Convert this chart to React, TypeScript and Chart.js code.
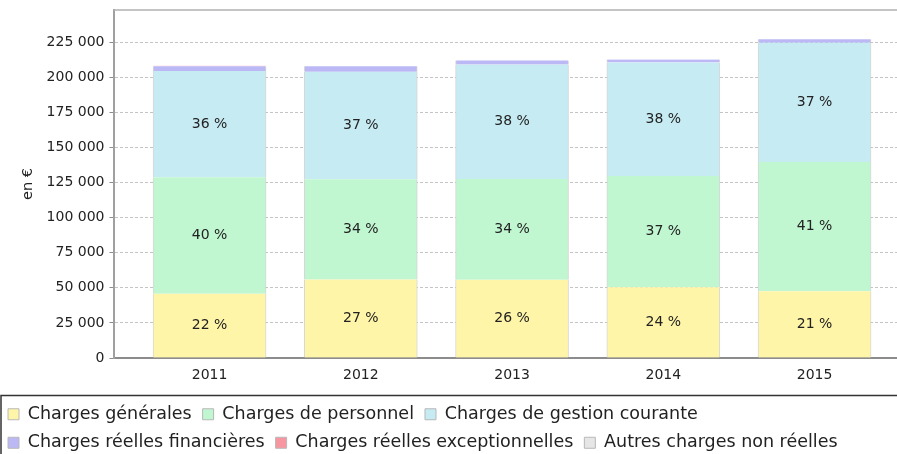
import React, { useEffect, useRef } from "react";
import { Chart, registerables } from "chart.js";

Chart.register(...registerables);

const years = ["2011", "2012", "2013", "2014", "2015"];
const chargesGenerales = [45700, 55900, 55700, 50400, 47600];
const chargesPersonnel = [83100, 71400, 71900, 79300, 92100];
const chargesGestion = [75700, 76700, 81500, 80900, 85000];
const chargesFinancieres = [3400, 4000, 3000, 2100, 2400];
const chargesExceptionnelles = [400, 0, 0, 0, 0];
const autresCharges = [0, 0, 0, 0, 0];
const yTicks = [0, 25000, 50000, 75000, 100000, 125000, 150000, 175000, 200000, 225000];

const seriesNames = [
  "Charges générales",
  "Charges de personnel",
  "Charges de gestion courante",
  "Charges réelles financières",
  "Charges réelles exceptionnelles",
  "Autres charges non réelles",
];
const seriesValues = [
  chargesGenerales,
  chargesPersonnel,
  chargesGestion,
  chargesFinancieres,
  chargesExceptionnelles,
  autresCharges,
];
const seriesColors = ["#FFF5A8", "#C0F6D0", "#C6EBF3", "#BBB8F5", "#F796A0", "#E6E6E6"];

const fmt = (v: number) => String(v).replace(/\B(?=(\d{3})+(?!\d))/g, " ");

const pctPlugin = {
  id: "pctLabels",
  afterDatasetsDraw(chart: any) {
    const ctx = chart.ctx;
    const totals = years.map((_, i) => seriesValues.reduce((s, arr) => s + arr[i], 0));
    ctx.save();
    ctx.font = "14px 'DejaVu Sans'";
    ctx.fillStyle = "#222";
    ctx.textAlign = "center";
    ctx.textBaseline = "middle";
    for (let d = 0; d < 3; d++) {
      const meta = chart.getDatasetMeta(d);
      meta.data.forEach((el: any, i: number) => {
        const pct = Math.round((seriesValues[d][i] / totals[i]) * 100);
        ctx.fillText(`${pct} %`, el.x, (el.y + el.base) / 2);
      });
    }
    ctx.restore();
  },
};

const framePlugin = {
  id: "frames",
  beforeDraw(chart: any) {
    if (chart.legend) {
      chart.legend.left = -3;
      chart.legend.top = 394.5;
    }
  },
  afterDraw(chart: any) {
    const ctx = chart.ctx;
    const a = chart.chartArea;
    ctx.save();
    ctx.strokeStyle = "#b0b0b0";
    ctx.lineWidth = 1.5;
    ctx.beginPath();
    ctx.moveTo(a.left, a.top);
    ctx.lineTo(a.right + 2, a.top);
    ctx.stroke();
    ctx.strokeStyle = "#333";
    ctx.lineWidth = 1.5;
    ctx.strokeRect(1, 395.5, chart.width + 10, 100);
    ctx.restore();
  },
};

export default function App() {
  const ref = useRef<HTMLCanvasElement>(null);
  useEffect(() => {
    document.body.style.margin = "0";
    Chart.defaults.font.family = "'DejaVu Sans'";
    Chart.defaults.color = "#222";
    const chart = new Chart(ref.current!, {
      type: "bar",
      data: {
        datasets: seriesNames.map((name, d) => ({
          label: name,
          data: seriesValues[d].map((v, i) => ({ x: i, y: v })),
          backgroundColor: seriesColors[d],
          borderColor: "rgba(205,205,205,0.8)",
          borderWidth: { left: 1, right: 1, top: 0, bottom: 0 },
          borderSkipped: false,
          barThickness: 113,
        })),
      },
      plugins: [pctPlugin, framePlugin],
      options: {
        animation: false,
        responsive: false,
        layout: { padding: { top: 10, left: 0, right: 0, bottom: 0 } },
        plugins: {
          tooltip: { enabled: false },
          legend: {
            position: "bottom",
            align: "start",
            labels: {
              font: { size: 17.5 },
              color: "#222",
              boxWidth: 11,
              boxHeight: 11,
              padding: 11,
              generateLabels: (chart: any) =>
                chart.data.datasets.map((ds: any, i: number) => ({
                  text: ds.label,
                  fillStyle: ds.backgroundColor,
                  strokeStyle: "#b8b8b8",
                  lineWidth: 1,
                  datasetIndex: i,
                  fontColor: "#222",
                })),
            },
          },
        },
        scales: {
          x: {
            type: "linear",
            stacked: true,
            offset: false,
            min: -0.635,
            max: 4.545,
            grid: { display: false, offset: false },
            border: { display: true, color: "#8c8c8c", width: 2 },
            afterBuildTicks: (scale: any) => {
              scale.ticks = years.map((_, i) => ({ value: i }));
            },
            afterFit: (scale: any) => {
              scale.height = 29;
              scale.paddingLeft = 0;
              scale.paddingRight = 0;
            },
            ticks: {
              font: { size: 14 },
              padding: 1,
              maxRotation: 0,
              autoSkip: false,
              callback: (v: any) => years[v] ?? "",
            },
          },
          y: {
            stacked: true,
            min: 0,
            max: 248000,
            afterBuildTicks: (scale: any) => {
              scale.ticks = yTicks.map((v) => ({ value: v }));
            },
            afterFit: (scale: any) => {
              scale.width = 113.5;
              scale.paddingTop = 0;
              scale.paddingBottom = 0;
            },
            grid: {
              color: "#c4c4c4",
              lineWidth: 1,
              drawTicks: true,
              tickLength: 4,
              tickColor: "#8c8c8c",
              tickBorderDash: [],
            },
            border: { display: true, color: "#a0a0a0", width: 2, dash: [3, 2] },
            title: {
              display: true,
              text: "en €",
              font: { size: 14.5 },
              color: "#222",
              padding: { top: 20, bottom: 0 },
            },
            ticks: {
              font: { size: 14 },
              padding: 5,
              callback: (v: any) => fmt(v),
            },
          },
        },
      } as any,
    });
    return () => chart.destroy();
  }, []);
  return (
    <div style={{ width: 897, height: 454 }}>
      <canvas ref={ref} width={897} height={454} style={{ display: "block" }} />
    </div>
  );
}
